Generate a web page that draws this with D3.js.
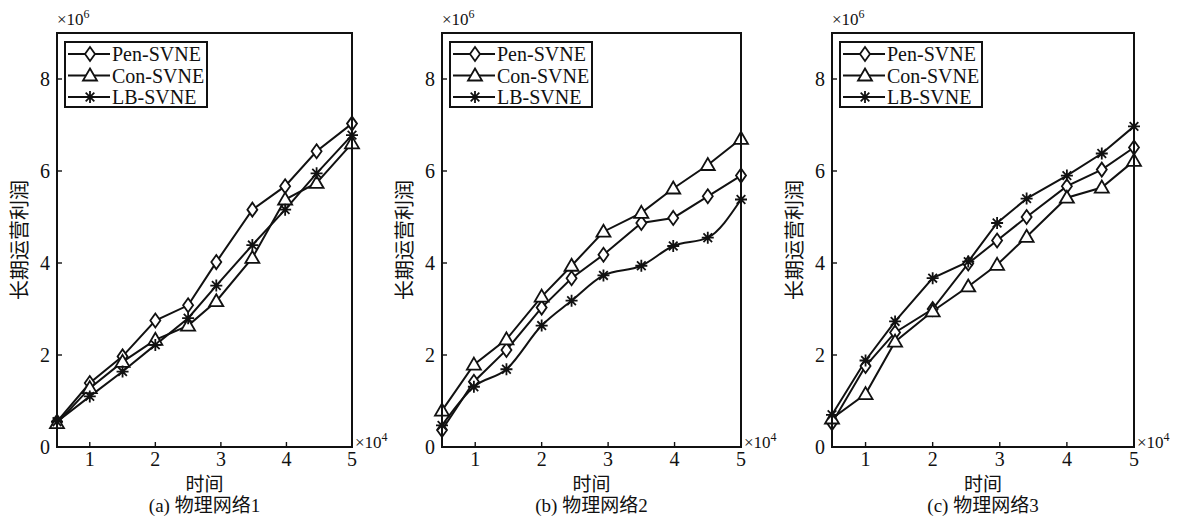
<!DOCTYPE html>
<html>
<head>
<meta charset="utf-8">
<script src="https://cdn.jsdelivr.net/npm/d3@7"></script>
<style>
  body { margin: 0; background: #fff; }
  svg { display: block; }
  text { font-family: "Liberation Serif", "Noto Sans CJK SC", serif; fill: #111; }
</style>
</head>
<body>
<svg id="chart" width="1187" height="518"></svg>
<script>
// Values (time in 1e4, profit in 1e6)
const seriesNames = ["Pen-SVNE", "Con-SVNE", "LB-SVNE"];
const xTicks = [1, 2, 3, 4, 5];
const yTicks = [0, 2, 4, 6, 8];
const captions = ["(a) 物理网络1", "(b) 物理网络2", "(c) 物理网络3"];
const xTitle = "时间";
const yTitle = "长期运营利润";

// panel (a)
const timeA = [0.5, 1, 1.5, 2, 2.5, 2.93, 3.48, 3.98, 4.46, 5];
const penA  = [0.55, 1.39, 1.97, 2.75, 3.08, 4.02, 5.16, 5.67, 6.43, 7.03];
const conA  = [0.52, 1.28, 1.85, 2.33, 2.64, 3.17, 4.11, 5.38, 5.74, 6.6];
const lbA   = [0.55, 1.1, 1.64, 2.22, 2.8, 3.51, 4.39, 5.16, 5.95, 6.78];

// panel (b)
const timeB = [0.5, 0.98, 1.47, 2.0, 2.45, 2.93, 3.5, 3.98, 4.5, 5];
const penB  = [0.37, 1.42, 2.11, 3.03, 3.67, 4.18, 4.87, 4.98, 5.45, 5.9];
const conB  = [0.79, 1.79, 2.34, 3.27, 3.94, 4.68, 5.09, 5.62, 6.13, 6.7];
const lbB   = [0.47, 1.31, 1.69, 2.64, 3.18, 3.73, 3.94, 4.37, 4.55, 5.38];

// panel (c)
const timeC = [0.5, 1.0, 1.44, 2.0, 2.53, 2.96, 3.4, 4.0, 4.52, 5];
const penC  = [0.52, 1.76, 2.49, 3.0, 3.99, 4.49, 5.0, 5.67, 6.03, 6.51];
const conC  = [0.62, 1.15, 2.29, 2.95, 3.49, 3.96, 4.57, 5.42, 5.64, 6.22];
const lbC   = [0.7, 1.88, 2.73, 3.67, 4.03, 4.87, 5.4, 5.9, 6.38, 6.97];

const panels = [
  { time: timeA, values: [penA, conA, lbA] },
  { time: timeB, values: [penB, conB, lbB] },
  { time: timeC, values: [penC, conC, lbC] }
];

const svg = d3.select("#chart");
const plotLeft = [57, 442, 832];
const plotRight = [352, 741, 1134];
const plotTop = 33, plotBottom = 447;
const markers = ["diamond", "triangle", "star"];

function drawMarker(g, type, cx, cy) {
  const s = 6;
  if (type == "diamond") {
    g.append("path")
      .attr("d", `M${cx},${cy - s - 1}L${cx + s - 1},${cy}L${cx},${cy + s + 1}L${cx - s + 1},${cy}Z`)
      .attr("fill", "#fff").attr("stroke", "#111").attr("stroke-width", 1.8);
  } else if (type == "triangle") {
    g.append("path")
      .attr("d", `M${cx},${cy - s - 1}L${cx + s + 1},${cy + s - 1}L${cx - s - 1},${cy + s - 1}Z`)
      .attr("fill", "#fff").attr("stroke", "#111").attr("stroke-width", 1.8);
  } else {
    const d = s * 0.72;
    g.append("path")
      .attr("d", `M${cx - s},${cy}L${cx + s},${cy}M${cx},${cy - s}L${cx},${cy + s}` +
                 `M${cx - d},${cy - d}L${cx + d},${cy + d}M${cx - d},${cy + d}L${cx + d},${cy - d}`)
      .attr("fill", "none").attr("stroke", "#111").attr("stroke-width", 1.8);
  }
}

panels.forEach((p, pi) => {
  const x = d3.scaleLinear().domain([0.5, 5]).range([plotLeft[pi], plotRight[pi]]);
  const y = d3.scaleLinear().domain([0, 9]).range([plotBottom, plotTop]);
  const g = svg.append("g");
  const midX = (plotLeft[pi] + plotRight[pi]) / 2;

  // lines
  p.values.forEach((vals, si) => {
    const pts = vals.map((v, i) => [p.time[i], v]);
    const curve = (pi == 1 && si == 2) ? d3.curveMonotoneX : d3.curveLinear;
    g.append("path")
      .datum(pts)
      .attr("fill", "none")
      .attr("stroke", "#111")
      .attr("stroke-width", 2)
      .attr("d", d3.line().x(d => x(d[0])).y(d => y(d[1])).curve(curve));
  });
  // markers
  p.values.forEach((vals, si) => {
    vals.forEach((v, i) => drawMarker(g, markers[si], x(p.time[i]), y(v)));
  });

  // box
  g.append("rect")
    .attr("x", plotLeft[pi]).attr("y", plotTop)
    .attr("width", plotRight[pi] - plotLeft[pi]).attr("height", plotBottom - plotTop)
    .attr("fill", "none").attr("stroke", "#111").attr("stroke-width", 2);

  // x ticks (inward)
  xTicks.forEach(t => {
    g.append("line")
      .attr("x1", x(t)).attr("x2", x(t))
      .attr("y1", plotBottom).attr("y2", plotBottom - 5)
      .attr("stroke", "#111").attr("stroke-width", 1.4);
    g.append("text")
      .attr("x", x(t)).attr("y", plotBottom + 19)
      .attr("text-anchor", "middle")
      .attr("font-size", 20)
      .text(t);
  });
  // y ticks (inward)
  yTicks.forEach(t => {
    g.append("line")
      .attr("x1", plotLeft[pi]).attr("x2", plotLeft[pi] + 5)
      .attr("y1", y(t)).attr("y2", y(t))
      .attr("stroke", "#111").attr("stroke-width", 1.4);
    g.append("text")
      .attr("x", plotLeft[pi] - 7).attr("y", y(t) + 7)
      .attr("text-anchor", "end")
      .attr("font-size", 20)
      .text(t);
  });

  // exponent labels
  const ey = g.append("text")
    .attr("x", plotLeft[pi]).attr("y", 25)
    .attr("font-size", 17);
  ey.append("tspan").text("×10");
  ey.append("tspan").attr("dy", -7).attr("font-size", 12).text("6");

  const ex = g.append("text")
    .attr("x", plotRight[pi] + 3).attr("y", 448)
    .attr("font-size", 17);
  ex.append("tspan").text("×10");
  ex.append("tspan").attr("dy", -7).attr("font-size", 12).text("4");

  // axis titles
  g.append("text")
    .attr("x", midX).attr("y", 491)
    .attr("text-anchor", "middle")
    .attr("font-size", 19)
    .text(xTitle);
  g.append("text")
    .attr("transform", `translate(${plotLeft[pi] - 30},${(plotTop + plotBottom) / 2}) rotate(-90)`)
    .attr("text-anchor", "middle")
    .attr("font-size", 20)
    .text(yTitle);
  g.append("text")
    .attr("x", midX).attr("y", 512)
    .attr("text-anchor", "middle")
    .attr("font-size", 19)
    .text(captions[pi]);

  // legend
  const lx = plotLeft[pi] + 8, ly = 42;
  const legend = g.append("g");
  legend.append("rect")
    .attr("x", lx).attr("y", ly).attr("width", 142).attr("height", 65)
    .attr("fill", "#fff").attr("stroke", "#111").attr("stroke-width", 2);
  seriesNames.forEach((name, si) => {
    const ry = ly + 12 + si * 21.5;
    legend.append("line")
      .attr("x1", lx + 3).attr("x2", lx + 45)
      .attr("y1", ry).attr("y2", ry)
      .attr("stroke", "#111").attr("stroke-width", 2);
    drawMarker(legend, markers[si], lx + 25, ry);
    legend.append("text")
      .attr("x", lx + 47).attr("y", ry + 7)
      .attr("font-size", 20)
      .text(name);
  });
});
</script>
</body>
</html>
